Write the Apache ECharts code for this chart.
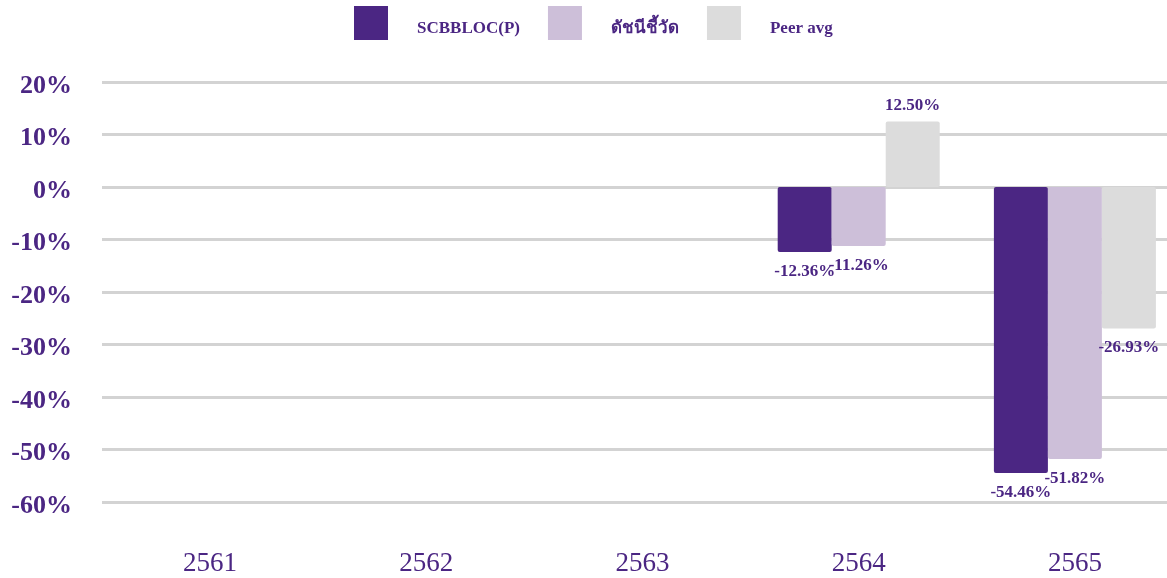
<!DOCTYPE html>
<html><head><meta charset="utf-8">
<script src="https://cdn.jsdelivr.net/npm/echarts@6/dist/echarts.min.js"></script>
<style>html,body{margin:0;padding:0;background:#fff}#c{width:1167px;height:578px}</style>
</head><body><div id="c"></div>
<script>
const categories = ['2561','2562','2563','2564','2565'];
const seriesNames = ['SCBBLOC(P)','ดัชนีชี้วัด','Peer avg'];
const fundValues = [null, null, null, -12.36, -54.46];
const indexValues = [null, null, null, -11.26, -51.82];
const peerValues = [null, null, null, 12.50, -26.93];
const colors = ['#4B2683','#CDBFD9','#DCDCDC'];
const FONT = '"Liberation Serif", "Times New Roman", serif';
const TXT = '#4B2683';

function mk(name, vals, color){
  return {
    name, type:'bar', barWidth:54, barGap:'0%',
    itemStyle:{color, borderRadius:2},
    data: vals.map(v => v==null ? null : {
      value:v,
      label:{position: v>=0 ? 'top' : 'bottom', distance: v>=0 ? 7 : 11}
    }),
    label:{show:true, color:TXT, fontFamily:FONT, fontWeight:'bold', fontSize:17,
      formatter: p => p.value.toFixed(2)+'%'}
  };
}
const chart = echarts.init(document.getElementById('c'));
chart.setOption({
  animation:false,
  legend:{top:1, left:349, itemWidth:34, itemHeight:34, itemGap:28,
    icon:'rect',
    formatter:'{a|{name}}',
    textStyle:{color:TXT, fontFamily:FONT, fontWeight:'bold', fontSize:17, padding:[0,0,0,24],
      rich:{a:{color:TXT, fontFamily:FONT, fontWeight:'bold', fontSize:17, padding:[12,0,0,0]}}},
    data:seriesNames},
  grid:{left:102, width:1081, top:82, bottom:76, outerBoundsMode:'none'},
  xAxis:{type:'category', data:categories,
    axisLine:{show:false}, axisTick:{show:false},
    axisLabel:{color:TXT, fontFamily:FONT, fontSize:27, margin:48}},
  yAxis:{type:'value', min:-60, max:20, interval:10,
    axisLabel:{color:TXT, margin:30, formatter:'{a|{value}%}',
      rich:{a:{color:TXT, fontFamily:FONT, fontWeight:'bold', fontSize:26, padding:[8,0,0,0]}}},
    splitLine:{lineStyle:{color:'#D3D3D3', width:3}},
    axisLine:{show:false}, axisTick:{show:false}},
  series:[mk(seriesNames[0],fundValues,colors[0]), mk(seriesNames[1],indexValues,colors[1]), mk(seriesNames[2],peerValues,colors[2])]
});
</script></body></html>
